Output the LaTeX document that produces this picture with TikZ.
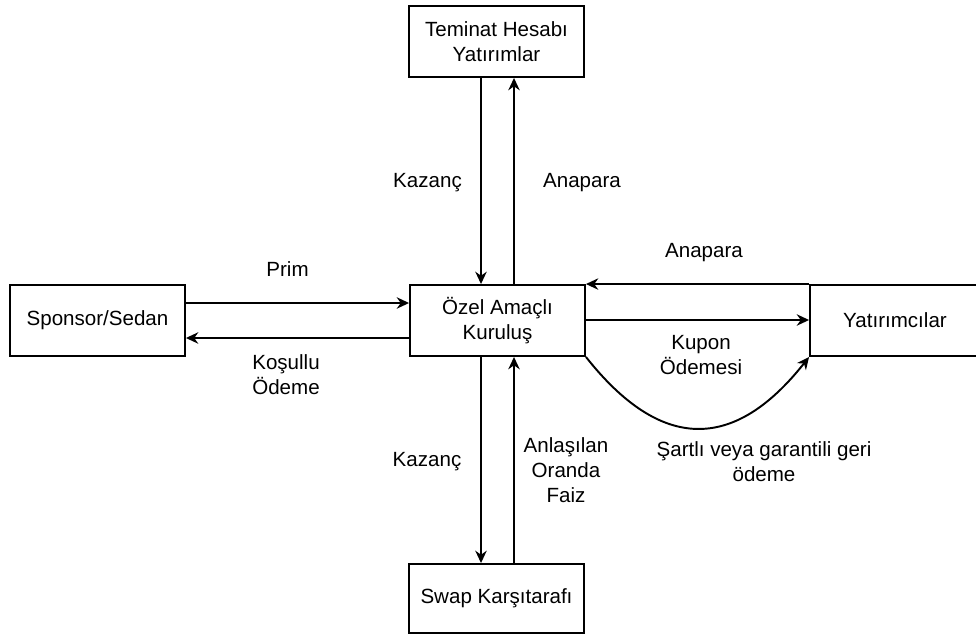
\documentclass[tikz,border=0pt]{standalone}
\usepackage{fontspec}
\setmainfont{Liberation Sans}
\usetikzlibrary{arrows.meta,calc}
\begin{document}
\begin{tikzpicture}[x=0.02cm,y=-0.02cm,
  font=\fontsize{11.7pt}{14.2pt}\selectfont,
  box/.style={draw, line width=1.1pt, minimum width=3.5cm, minimum height=1.42cm, align=center, inner sep=0pt},
  arr/.style={line width=1.1pt, -{Stealth[length=7pt,width=6.5pt]}},
  lbl/.style={align=center, inner sep=0pt}]
\useasboundingbox (0,0) rectangle (976,635);
\clip (0,0) rectangle (976,635);
\node[box] (temi) at (496.5,41.5) {Teminat Hesabı\\Yatırımlar};
\node[box] (spon) at (97.5,320.5) {Sponsor/Sedan};
\node[box] (ozel) at (497.5,320.5) {Özel Amaçlı\\Kuruluş};
\node[box, minimum width=3.4cm] (yat) at (895,320.5) {Yatırımcılar};
\node[box, minimum height=1.38cm] (swap) at (496.5,598.5) {Swap Karşıtarafı};
% top vertical arrows
\draw[arr] ($(temi.south)+(-15.5,0)$) -- ($(ozel.north)+(-16.5,0)$);
\draw[arr] ($(ozel.north)+(16.5,0)$) -- ($(temi.south)+(17.5,0)$);
% bottom vertical arrows
\draw[arr] ($(ozel.south)+(-16.5,0)$) -- ($(swap.north)+(-15.5,0)$);
\draw[arr] ($(swap.north)+(17.5,0)$) -- ($(ozel.south)+(16.5,0)$);
% sponsor arrows
\draw[arr] ($(spon.east)+(0,-17.5)$) -- ($(ozel.west)+(0,-17.5)$);
\draw[arr] ($(ozel.west)+(0,17.5)$) -- ($(spon.east)+(0,17.5)$);
% investor arrows
\draw[arr] (yat.north west) -- (ozel.north east);
\draw[arr] ($(ozel.east)+(0,-0.5)$) -- ($(yat.west)+(0,-0.5)$);
\draw[arr] (ozel.south east) .. controls +(75,95) and +(-75,95) .. (yat.south west);
% labels
\node[lbl] (l1) at (427.5,183) {Kazanç};
\node[lbl] (l2) at (582,183) {Anapara};
\node[lbl] (l3) at (287.5,269) {Prim};
\node[lbl] (l4) at (286,374.5) {Koşullu\\Ödeme};
\node[lbl] (l5) at (704,253) {Anapara};
\node[lbl] (l6) at (701,355) {Kupon\\Ödemesi};
\node[lbl] (l7) at (427,462) {Kazanç};
\node[lbl] (l8) at (566,470) {Anlaşılan\\Oranda\\Faiz};
\node[lbl] (l9) at (764,461.5) {Şartlı veya garantili geri\\ödeme};
\end{tikzpicture}
\end{document}
